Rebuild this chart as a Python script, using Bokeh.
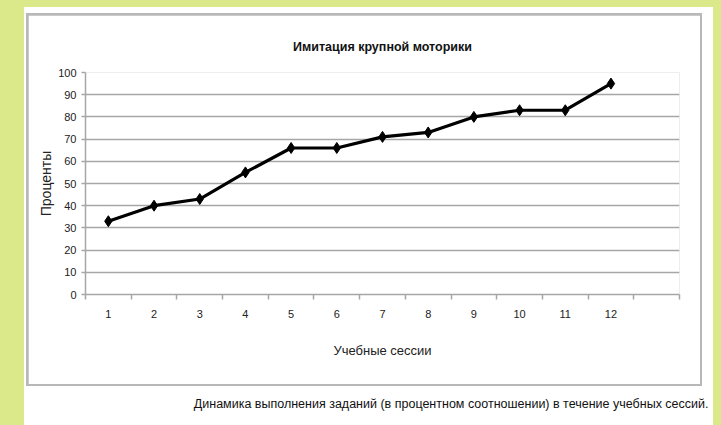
from bokeh.plotting import figure
from bokeh.models import Range1d, FixedTicker, Title
from bokeh.layouts import row, column
from bokeh.embed import file_html
from bokeh.resources import INLINE

sessions = [1, 2, 3, 4, 5, 6, 7, 8, 9, 10, 11, 12]
percent = [33, 40, 43, 55, 66, 66, 71, 73, 80, 83, 83, 95]
y_ticks = [0, 10, 20, 30, 40, 50, 60, 70, 80, 90, 100]
x_bounds = [0.5, 1.5, 2.5, 3.5, 4.5, 5.5, 6.5, 7.5, 8.5, 9.5, 10.5, 11.5, 12.5, 13.5]

FONT = "Liberation Sans"
GREEN = "#dce98a"
GRID = "#a6a6a6"
BOX = "#b8b8b8"
TXT = "#222222"

p = figure(width=672, height=369, output_backend="svg", toolbar_location=None,
           x_range=Range1d(0.5, 13.5), y_range=Range1d(0, 100),
           min_border_left=57, min_border_right=21, min_border_top=57, min_border_bottom=90,
           margin=(2, 2, 2, 2))
p.outline_line_color = None
p.background_fill_color = "white"
p.border_fill_color = "white"

p.line(sessions, percent, line_color="black", line_width=3.2)
p.scatter(sessions, percent, marker="diamond", size=11, color="black")

xa = p.xaxis[0]
xa.ticker = FixedTicker(ticks=sessions, minor_ticks=x_bounds)
xa.major_tick_line_color = None
xa.minor_tick_line_color = GRID
xa.minor_tick_line_width = 1.5
xa.minor_tick_out = 5
xa.minor_tick_in = 0
xa.axis_line_color = GRID
xa.axis_line_width = 1.5
xa.major_label_text_font = FONT
xa.major_label_text_font_size = "11px"
xa.major_label_text_color = TXT
xa.major_label_standoff = 9
xa.axis_label = "Учебные сессии"
xa.axis_label_text_font = FONT
xa.axis_label_text_font_size = "13px"
xa.axis_label_text_font_style = "normal"
xa.axis_label_text_color = TXT
xa.axis_label_standoff = 22

ya = p.yaxis[0]
ya.ticker = FixedTicker(ticks=y_ticks)
ya.major_tick_line_color = GRID
ya.major_tick_line_width = 1.5
ya.major_tick_out = 4
ya.major_tick_in = 0
ya.minor_tick_line_color = None
ya.axis_line_color = GRID
ya.axis_line_width = 1.5
ya.major_label_text_font = FONT
ya.major_label_text_font_size = "11px"
ya.major_label_text_color = TXT
ya.major_label_standoff = 5
ya.axis_label = "Проценты"
ya.axis_label_text_font = FONT
ya.axis_label_text_font_size = "14px"
ya.axis_label_text_font_style = "normal"
ya.axis_label_text_color = TXT
ya.axis_label_standoff = 1

p.xgrid.grid_line_color = None
p.ygrid.ticker = FixedTicker(ticks=y_ticks)
p.ygrid.grid_line_color = GRID
p.ygrid.grid_line_width = 1.5

t = Title(text="Имитация крупной моторики", align="center",
          text_font=FONT, text_font_size="12.5px", text_font_style="bold",
          text_color="#111111", offset=0, standoff=38)
p.add_layout(t, "above")

# caption figure (text only)
c = figure(width=689, height=39, output_backend="svg", toolbar_location=None,
           x_range=Range1d(0, 1), y_range=Range1d(0, 1),
           min_border_left=0, min_border_right=5, min_border_top=24, min_border_bottom=0,
           margin=(0, 0, 0, 0))
c.outline_line_color = None
c.axis.visible = False
c.grid.visible = False
c.border_fill_color = "white"
c.background_fill_color = "white"
cap = Title(text="Динамика выполнения заданий (в процентном соотношении) в течение учебных сессий.",
            align="right", text_font=FONT, text_font_size="12.5px", text_font_style="normal",
            text_color="#111111", offset=0, standoff=0)
c.add_layout(cap, "above")

box = column(p, styles={"background-color": BOX}, margin=(6, 11, 0, 2))
white = column(box, c, styles={"background-color": "white"}, margin=(7, 8, 0, 24))
layout = row(white, styles={"background-color": GREEN}, margin=(0, 0, 0, 0))
open("out.html", "w").write(file_html(layout, INLINE))
